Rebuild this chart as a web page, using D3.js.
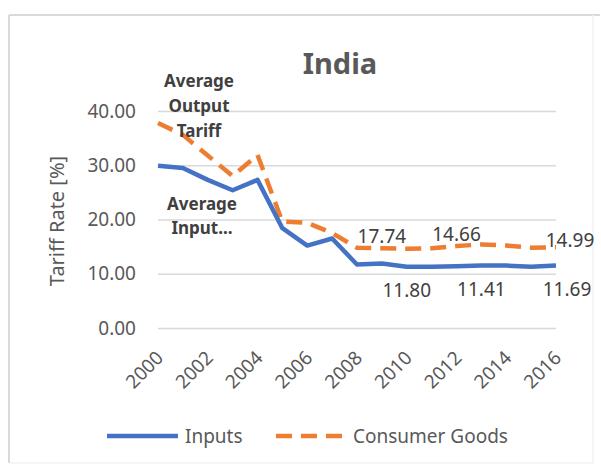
<!DOCTYPE html>
<html>
<head>
<meta charset="utf-8">
<script src="https://cdn.jsdelivr.net/npm/d3@7"></script>
<style>
  body { margin: 0; background: #fff; }
  svg { display: block; font-family: "Noto Sans", "Open Sans", sans-serif; }
</style>
</head>
<body>
<div id="chart"></div>
<script>
// --- data ---
const years = d3.range(2000, 2017);
const inputs = [29.9, 29.5, 27.3, 25.4, 27.3, 18.4, 15.2, 16.5, 11.7, 11.9, 11.3, 11.3, 11.4, 11.5, 11.5, 11.3, 11.5];
const consumerGoods = [37.8, 35.6, 31.8, 28.0, 31.9, 19.6, 19.4, 17.5, 14.8, 14.7, 14.6, 14.7, 15.1, 15.4, 15.2, 14.8, 14.9];
const yTicks = [0, 10, 20, 30, 40];
const xTicks = d3.range(2000, 2017, 2);
// data labels as printed on the chart
const consumerLabels = [{ year: 2009, text: "17.74" }, { year: 2012, text: "14.66" }, { year: 2016, text: "14.99" }];
const inputLabels = [{ year: 2010, text: "11.80" }, { year: 2013, text: "11.41" }, { year: 2016, text: "11.69" }];

const width = 601, height = 466;
const margin = { top: 111, right: 45, bottom: 138, left: 158 };
const innerW = width - margin.left - margin.right;
const innerH = height - margin.top - margin.bottom;

const blue = "#4472C4", orange = "#ED7D31", textCol = "#595959";

const svg = d3.select("#chart").append("svg")
  .attr("width", width).attr("height", height);

// chart frame
svg.append("line").attr("x1", 9).attr("x2", 600).attr("y1", 15).attr("y2", 15)
  .attr("stroke", "#d9d9d9").attr("stroke-width", 2);
svg.append("line").attr("x1", 9).attr("x2", 9).attr("y1", 15).attr("y2", 463)
  .attr("stroke", "#d9d9d9").attr("stroke-width", 2);
svg.append("line").attr("x1", 593).attr("x2", 593).attr("y1", 15).attr("y2", 463)
  .attr("stroke", "#f2f2f2").attr("stroke-width", 1.5);
svg.append("line").attr("x1", 9).attr("x2", 593).attr("y1", 463).attr("y2", 463)
  .attr("stroke", "#f2f2f2").attr("stroke-width", 1.5);

const x = d3.scaleLinear().domain([2000, 2016]).range([0, innerW]);
const y = d3.scaleLinear().domain([0, 40]).range([innerH, 0]);

const g = svg.append("g").attr("transform", `translate(${margin.left},${margin.top})`);

// gridlines + y tick labels
const yAxis = g.append("g")
  .call(d3.axisLeft(y).tickValues(yTicks).tickSize(-innerW).tickPadding(22)
    .tickFormat(d3.format(".2f")));
yAxis.select(".domain").remove();
yAxis.selectAll(".tick line").attr("stroke", "#d9d9d9").attr("stroke-width", 1.5);
yAxis.selectAll(".tick text").attr("fill", textCol).attr("font-size", 19)
  .attr("font-family", "Noto Sans");

// x tick labels (rotated)
const xAxis = g.append("g").attr("transform", `translate(0,${innerH})`)
  .call(d3.axisBottom(x).tickValues(xTicks).tickSize(0).tickFormat(d3.format("d")));
xAxis.select(".domain").remove();
xAxis.selectAll(".tick text")
  .attr("fill", textCol).attr("font-size", 19).attr("font-family", "Noto Sans")
  .attr("text-anchor", "end")
  .attr("dy", null).attr("y", 0)
  .attr("transform", "translate(6,31) rotate(-45)");

// lines
const line = (vals) => d3.line().x((d, i) => x(years[i])).y(d => y(d))(vals);

g.append("path").attr("d", line(consumerGoods))
  .attr("fill", "none").attr("stroke", orange).attr("stroke-width", 4.5)
  .attr("stroke-dasharray", "16,9").attr("stroke-linejoin", "round");
g.append("path").attr("d", line(inputs))
  .attr("fill", "none").attr("stroke", blue).attr("stroke-width", 4.5)
  .attr("stroke-linejoin", "round");

// data labels
const valAt = (arr, yr) => arr[years.indexOf(yr)];
g.selectAll(".lab-c").data(consumerLabels).join("text")
  .attr("x", d => x(d.year) + (d.year === 2016 ? 14 : 0))
  .attr("y", d => y(valAt(consumerGoods, d.year)) - (d.year === 2016 ? 0 : 5))
  .attr("text-anchor", "middle").attr("font-size", 19).attr("fill", "#404040")
  .text(d => d.text);
g.selectAll(".lab-i").data(inputLabels).join("text")
  .attr("x", d => x(d.year) + (d.year === 2016 ? 11 : 0))
  .attr("y", d => y(valAt(inputs, d.year)) + 30)
  .attr("text-anchor", "middle").attr("font-size", 19).attr("fill", "#404040")
  .text(d => d.text);

// title
svg.append("text").attr("x", 340).attr("y", 74).attr("text-anchor", "middle")
  .attr("font-size", 29).attr("font-weight", "bold").attr("fill", textCol)
  .text("India");

// y axis title
svg.append("text").attr("transform", "translate(64,221) rotate(-90)")
  .attr("text-anchor", "middle").attr("font-size", 20).attr("fill", textCol)
  .text("Tariff Rate [%]");

// series annotations
const ann = svg.append("g").attr("font-size", 17).attr("font-weight", "bold")
  .attr("fill", "#404040").attr("text-anchor", "middle");
["Average", "Output", "Tariff"].forEach((t, i) =>
  ann.append("text").attr("x", 199).attr("y", 87 + i * 25).text(t));
["Average", "Input..."].forEach((t, i) =>
  ann.append("text").attr("x", 202).attr("y", 210 + i * 24).text(t));

// legend
const leg = svg.append("g").attr("transform", "translate(0,436)");
leg.append("line").attr("x1", 107).attr("x2", 178).attr("stroke", blue).attr("stroke-width", 4.5);
leg.append("text").attr("x", 185).attr("y", 7).attr("font-size", 19).attr("fill", textCol).text("Inputs");
leg.append("line").attr("x1", 276).attr("x2", 346).attr("stroke", orange).attr("stroke-width", 4.5)
  .attr("stroke-dasharray", "16,9");
leg.append("text").attr("x", 353).attr("y", 7).attr("font-size", 19).attr("fill", textCol).text("Consumer Goods");
</script>
</body>
</html>
